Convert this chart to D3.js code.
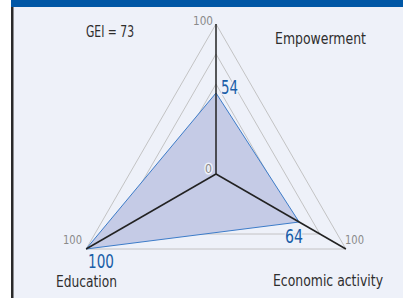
<!DOCTYPE html>
<meta charset="utf-8">
<html>
  <head>
    <script src="https://d3js.org/d3.v7.min.js"></script>
    <style>
      body { margin: 0; background: #fff; }
      text { font-family: "Liberation Sans Narrow", "DejaVu Sans Condensed", Arial, sans-serif; }
    </style>
  </head>
  <body>
    <svg id="chart" width="403" height="298"></svg>
    <script>
      // data
      const axes = ["Empowerment", "Economic activity", "Education"];
      const values = [54, 64, 100];
      const gridLevels = [20, 40, 60, 80, 100];
      const gei = 73;

      const width = 403, height = 298;
      const cx = 216, cy = 174;

      const svg = d3.select("#chart");

      // panel
      svg.append("rect").attr("x", 11).attr("y", 0).attr("width", width - 11).attr("height", height)
         .attr("fill", "#eef1f9");
      svg.append("rect").attr("x", 11).attr("y", 0).attr("width", 2.5).attr("height", height)
         .attr("fill", "#2a2a2a");
      svg.append("rect").attr("x", 11).attr("y", 0).attr("width", width - 11).attr("height", 7)
         .attr("fill", "#0057a6");

      const r = d3.scaleLinear().domain([0, 100]).range([0, 150]);
      const angle = d3.scalePoint().domain(axes).range([0, 240]);  // degrees, clockwise from top

      function pt(axis, v) {
        const a = angle(axis) * Math.PI / 180;
        return [cx + r(v) * Math.sin(a), cy - r(v) * Math.cos(a)];
      }

      const line = d3.line().curve(d3.curveLinearClosed);

      // grid triangles
      svg.append("g").selectAll("path")
        .data(gridLevels)
        .enter().append("path")
          .attr("d", lv => line(axes.map(ax => pt(ax, lv))))
          .attr("fill", "none")
          .attr("stroke", "#bdbdbd")
          .attr("stroke-width", 0.9);

      // data area
      svg.append("path")
        .attr("d", line(axes.map((ax, i) => pt(ax, values[i]))))
        .attr("fill", "#c5cbe6")
        .attr("stroke", "#3d7cc9")
        .attr("stroke-width", 1);

      // axes
      svg.append("g").selectAll("line")
        .data(axes)
        .enter().append("line")
          .attr("x1", cx).attr("y1", cy)
          .attr("x2", d => pt(d, 100)[0])
          .attr("y2", d => pt(d, 100)[1])
          .attr("stroke", "#222")
          .attr("stroke-width", 1.5);

      function label(x, y, txt, size, color, len, anchor) {
        const t = svg.append("text")
          .attr("x", x).attr("y", y)
          .attr("font-size", size)
          .attr("fill", color)
          .attr("text-anchor", anchor || "start")
          .attr("stroke", "#eef1f9").attr("stroke-width", 3)
          .attr("paint-order", "stroke")
          .text(txt);
        if (len) t.attr("textLength", len).attr("lengthAdjust", "spacingAndGlyphs");
        return t;
      }

      // scale labels
      label(193, 25, "100", 13, "#8a8a8a", 20);
      label(63, 244, "100", 13, "#8a8a8a", 19);
      label(345, 244, "100", 13, "#8a8a8a", 19);
      label(205, 173, "0", 13, "#8a8a8a", 7);

      // value labels
      const valuePos = [[221, 94, 17], [285, 243, 18], [88, 268, 26]];
      values.forEach((v, i) => {
        label(valuePos[i][0], valuePos[i][1], v, 20, "#1a5ea8", valuePos[i][2]);
      });

      // axis names
      const namePos = [[275, 44, 91], [273, 286, 110], [56, 287, 61]];
      axes.forEach((ax, i) => {
        label(namePos[i][0], namePos[i][1], ax, 15.5, "#2e2e2e", namePos[i][2]);
      });

      label(86, 37, "GEI = " + gei, 15, "#2e2e2e", 48);
    </script>
  </body>
</html>
